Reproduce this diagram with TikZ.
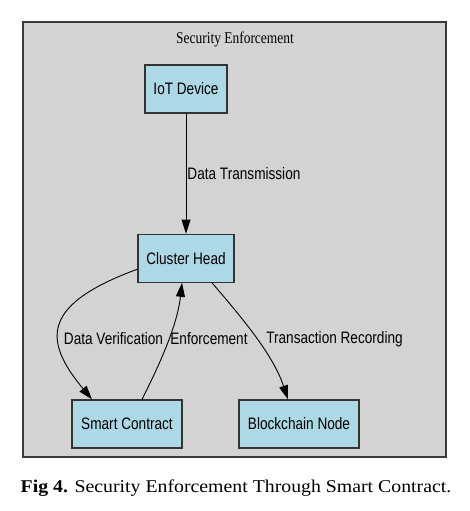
\documentclass[tikz,border=0pt]{standalone}
\usepackage{fontspec}
\setmainfont{Liberation Serif}
\setsansfont{Liberation Sans}
\usepackage{graphicx}
\usepackage{xcolor}
\definecolor{clusterbg}{HTML}{D3D3D3}
\definecolor{clusteredge}{HTML}{3A3A3A}
\definecolor{nodeblue}{HTML}{ADD8E6}
\definecolor{nodeedge}{HTML}{333333}
\usepackage{tikz}
\usetikzlibrary{arrows.meta, positioning}
\newcommand{\narrowtxt}[1]{\scalebox{0.82}[1]{#1}}
\tikzset{
  scbox/.style={
    draw=nodeedge, fill=nodeblue,
    line width=1.2pt,
    font=\sffamily\fontsize{16.6}{19}\selectfont,
    inner sep=0pt, align=center,
    minimum height=48pt,
  },
  clusterbox/.style={
    draw=clusteredge, fill=clusterbg,
    line width=1.2pt, inner sep=0pt,
  },
  flowlbl/.style={
    font=\sffamily\fontsize{16.6}{19}\selectfont,
    text=black, inner sep=0pt,
  },
  flow/.style={-{Triangle[length=14pt, width=9pt]}, line width=0.9pt, black},
}

\begin{document}
\begin{tikzpicture}[x=1pt, y=1pt, node distance=120pt]

  \useasboundingbox (0,0) rectangle (470,511);

  % Cluster boundary
  \node[clusterbox, minimum width=423pt, minimum height=435pt] (frame)
    at (234.5,271.5) {};
  \node[font=\fontsize{16.4}{19}\selectfont] (title) at (235,471)
    {\narrowtxt{Security Enforcement}};

  % Nodes
  \node[scbox, minimum width=82pt] (iot) at (186,422) {\narrowtxt{IoT Device}};
  \node[scbox, minimum width=96pt, below=of iot] (ch) {\narrowtxt{Cluster Head}};
  \node[scbox, minimum width=110pt] (sc) at (127,87) {\narrowtxt{Smart Contract}};
  \node[scbox, minimum width=120pt] (bc) at (299,87) {\narrowtxt{Blockchain Node}};

  % Edges: iot -> ch
  \draw[flow] (iot) -- (ch)
    node[midway, right, flowlbl, xshift=1pt] {\narrowtxt{Data Transmission}};

  % Edges: ch -> sc
  \draw[flow] ([yshift=-11pt]ch.west)
    .. controls +(-95,-35) and +(-50,60) .. ([xshift=-35pt]sc.north);

  % Edges: sc -> ch
  \draw[flow] ([xshift=15pt]sc.north)
    .. controls +(15,30) and +(-5,-45) .. ([xshift=-4pt]ch.south);

  % Edges: ch -> bc
  \draw[flow] ([xshift=26pt]ch.south)
    .. controls +(30,-35) and +(-15,45) .. ([xshift=-11pt]bc.north);

  % Edge labels
  \node[flowlbl] (lblver) at (113.5,172) {\narrowtxt{Data Verification}};
  \node[flowlbl] (lblenf) at (209,172) {\narrowtxt{Enforcement}};
  \node[flowlbl] (lblrec) at (334.5,172) {\narrowtxt{Transaction Recording}};

  % Caption
  \node[font=\fontsize{18}{22}\selectfont] (caption) at (236,23)
    {\scalebox{1.1}[1]{\textbf{Fig 4.} Security Enforcement Through Smart Contract.}};

\end{tikzpicture}
\end{document}
